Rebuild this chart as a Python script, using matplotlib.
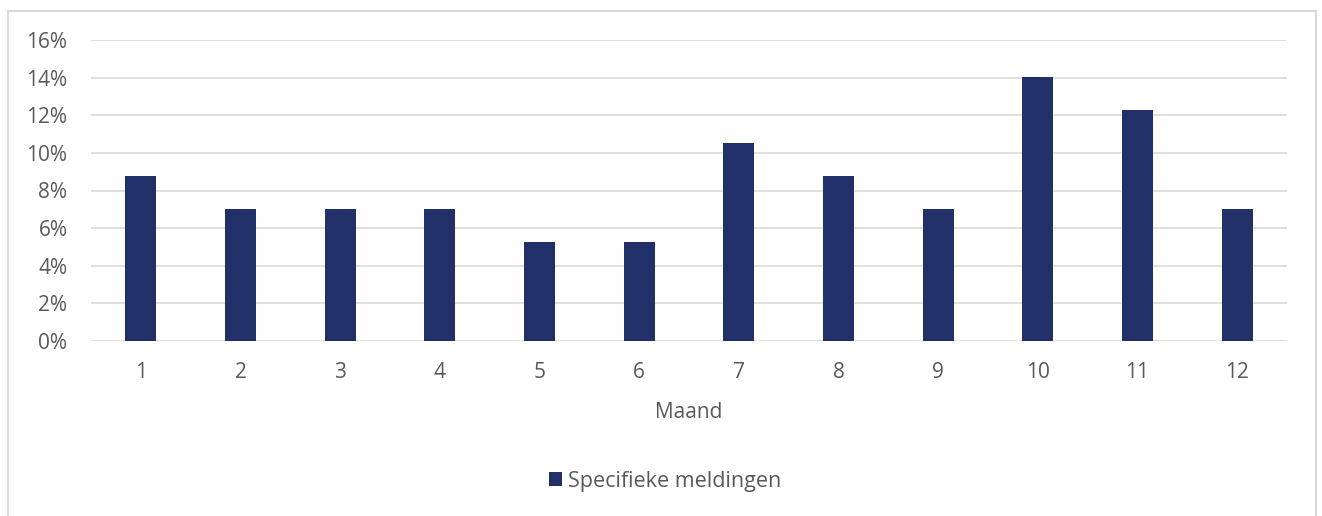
import matplotlib.pyplot as plt
from matplotlib.patches import Rectangle
from matplotlib.ticker import PercentFormatter

# Aandeel specifieke meldingen per maand
maanden = ['1', '2', '3', '4', '5', '6', '7', '8', '9', '10', '11', '12']
aandeel = [8.77, 7.02, 7.02, 7.02, 5.26, 5.26, 10.53, 8.77, 7.02, 14.04, 12.28, 7.02]

kleur = '#22306a'
tekst = '#595959'
plt.rcParams['font.family'] = ['Open Sans', 'DejaVu Sans']

fig = plt.figure(figsize=(13.22, 5.16), dpi=100)
ax = fig.add_axes([91 / 1322, 1 - 341 / 516, 1196 / 1322, 301 / 516])

x = range(len(maanden))
ax.bar(x, aandeel, width=0.31, color=kleur, label='Specifieke meldingen', zorder=3)

ax.set_xlim(-0.5, len(maanden) - 0.5)
ax.set_ylim(0, 16)
ax.set_yticks(range(0, 17, 2))
ax.yaxis.set_major_formatter(PercentFormatter(decimals=0))
ax.set_xticks(list(x))
ax.set_xticklabels(maanden)
ax.grid(axis='y', color='#d9d9d9', linewidth=1.2, zorder=0)
for s in ax.spines.values():
    s.set_visible(False)
ax.tick_params(length=0, labelsize=15, colors=tekst)
ax.tick_params(axis='x', pad=15)
ax.tick_params(axis='y', pad=17)
ax.set_xlabel('Maand', fontsize=15, color=tekst, labelpad=14)

fig.legend(loc='center', bbox_to_anchor=(665 / 1322, 1 - 481 / 516), frameon=False,
           fontsize=15.5, labelcolor=tekst, handlelength=0.6, handleheight=0.6,
           handletextpad=0.3)

# kader rond de grafiek
fig.patches.append(Rectangle((8 / 1322, -0.05), 1308 / 1322, 1.05 - 11 / 516,
                             transform=fig.transFigure, fill=False,
                             edgecolor='#d9d9d9', linewidth=1.5))

plt.savefig('out.png', dpi=100)
